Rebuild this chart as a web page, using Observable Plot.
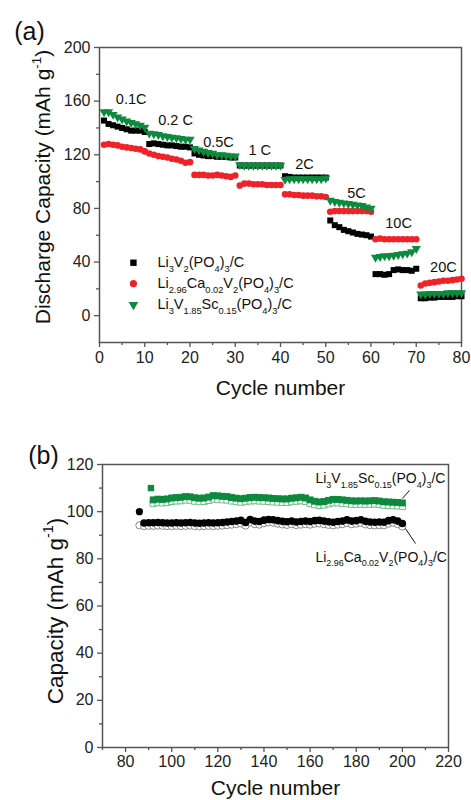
<!DOCTYPE html>
<html>
<head>
<meta charset="utf-8">
<script src="https://cdn.jsdelivr.net/npm/d3@7"></script>
<script src="https://cdn.jsdelivr.net/npm/@observablehq/plot@0.6"></script>
<style>
  html, body { margin: 0; padding: 0; background: #fff; }
  #wrap { width: 471px; }
  #wrap svg { display: block; }
</style>
</head>
<body>
<div id="wrap"></div>
<script>
// ---------------- Panel (a) data ----------------
const cyclesA = d3.range(1, 81);
const nameLVP = "Li_{3}V_{2}(PO_{4})_{3}/C";
const nameCa = "Li_{2.96}Ca_{0.02}V_{2}(PO_{4})_{3}/C";
const nameSc = "Li_{3}V_{1.85}Sc_{0.15}(PO_{4})_{3}/C";

const capLVP = [
  145.5, 143, 142, 141, 140, 139, 138, 138, 138, 137,
  128, 128.5, 128, 127.5, 127, 127, 126.5, 126, 126, 125.5,
  121, 120, 119.5, 119, 119, 118.5, 118.5, 118.5, 118, 118,
  112, 112, 112, 112, 112, 112, 112, 112, 112, 112,
  104, 103.5, 103, 103, 103, 103, 103, 103, 103, 103,
  71, 67.5, 66, 64, 63, 62, 61, 60.5, 60, 59,
  31, 31, 30.5, 31, 34, 34.5, 34, 34, 33.5, 35,
  13, 13, 13.5, 13.5, 14, 14, 14, 14, 14.5, 14.5
];
const capCa = [
  127.5, 128, 127.5, 127, 126, 125.5, 125, 124.5, 124, 122.5,
  121, 120, 119, 118.5, 118, 117, 116.5, 115.5, 114, 114.5,
  105, 105, 105, 104.5, 104.5, 105, 104.5, 104, 103.5, 104.5,
  97, 98.5, 98.5, 98, 98, 98, 97.5, 97.5, 97.5, 97.5,
  90.5, 90.5, 90, 90, 89.5, 89.5, 89.5, 89, 89, 88.5,
  77.5, 78, 78, 78, 78, 78, 78, 78, 78, 77.5,
  57, 57.5, 57, 57, 57, 57, 57, 57, 57, 57,
  22.5, 24, 24.5, 25, 25.5, 26, 26, 26.5, 27, 27.5
];
const capSc = [
  152, 152, 150, 148, 146.5, 145, 144, 143, 142, 140.5,
  136, 135.5, 135, 134, 133.5, 133, 132.5, 132, 131.5, 131.5,
  124.5, 123.5, 122.5, 121.5, 121, 120, 120, 119.5, 119, 119,
  112.5, 112, 112, 112, 112, 112, 112, 112, 112, 112,
  101.5, 102, 102, 102, 102, 102, 102, 102, 102, 102.5,
  86, 85, 84.5, 84, 83.5, 83, 82.5, 82, 81, 80,
  43.5, 44, 44.5, 44.5, 45, 45.5, 46, 46.5, 47.5, 50,
  16, 16, 16.5, 16.5, 16.5, 16.5, 17, 17, 17, 17
];

const rateLabels = ["0.1C", "0.2 C", "0.5C", "1 C", "2C", "5C", "10C", "20C"];
const rateX = [7, 16.8, 26.3, 35.4, 45.3, 56.8, 66.1, 76];
const rateY = [161, 146, 129, 123, 113, 91, 69, 36];

const xTicksA = [0, 10, 20, 30, 40, 50, 60, 70, 80];
const xMinorA = [5, 15, 25, 35, 45, 55, 65, 75];
const yTicksA = [0, 40, 80, 120, 160, 200];
const yMinorA = [20, 60, 100, 140, 180];

const xLabel = "Cycle number";
const yLabelA = "Discharge Capacity (mAh g^{-1})";
const yLabelB = "Capacity (mAh g^{-1})";

// ---------------- Panel (b) data ----------------
const caFirstCycle = [86], caFirstCap = [100];
const scFirstCycle = [91], scFirstCap = [110];
const cyclesCaFilled = d3.range(88, 201, 2);
const caFilled = [
  95.2, 95.3, 95.3, 95.4, 95.3,
  95.2, 95.2, 95.3, 95.2, 95.3,
  95.4, 95.2, 95.1, 95.2, 95.3,
  95.2, 95.3, 95.4, 95.6, 95.8,
  96.0, 96.3, 95.4, 96.7, 96.0,
  95.8, 96.4, 96.7, 96.6, 96.2,
  95.9, 95.7, 96.0, 95.6, 95.8,
  96.0, 95.8, 96.2, 96.3, 96.0,
  95.7, 95.5, 95.8, 96.0, 96.5,
  96.0, 96.2, 96.6, 95.9, 95.6,
  95.5, 95.6, 95.5, 96.2, 96.6,
  96.0, 95.0
];
const cyclesCaOpen = d3.range(86, 201, 2);
const caOpen = [
  94.2,
  93.9, 94.0, 94.0, 94.1, 94.0,
  93.9, 93.9, 94.0, 93.9, 94.0,
  94.1, 93.9, 93.8, 93.9, 94.0,
  93.9, 94.0, 94.1, 94.3, 94.5,
  94.7, 95.0, 94.1, 95.4, 94.7,
  94.5, 95.1, 95.4, 95.3, 94.9,
  94.6, 94.4, 94.7, 94.3, 94.5,
  94.7, 94.5, 94.9, 95.0, 94.7,
  94.4, 94.2, 94.5, 94.7, 95.2,
  94.7, 94.9, 95.3, 94.6, 94.3,
  94.2, 94.3, 94.2, 94.9, 95.3,
  94.7, 93.7
];
const cyclesSc = d3.range(92, 201, 2);
const scFilled = [
  105.0, 105.3, 105.2, 105.4, 105.8,
  106.0, 106.1, 106.4, 106.3, 105.9,
  105.7, 105.8, 106.2, 106.8, 106.7,
  106.5, 106.4, 106.0, 105.7, 105.5,
  105.7, 106.0, 106.1, 106.0, 105.9,
  105.8, 105.6, 105.5, 105.4, 105.4,
  105.7, 105.9, 106.1, 105.8, 105.0,
  104.4, 104.1, 104.3, 104.8, 105.2,
  105.2, 105.0, 104.8, 104.6, 104.5,
  104.6, 104.5, 104.6, 104.7, 104.5,
  104.2, 104.1, 104.0, 103.9, 103.7
];
const scOpen = [
  103.6, 103.9, 103.8, 104.0, 104.4,
  104.6, 104.7, 105.0, 104.9, 104.5,
  104.3, 104.4, 104.8, 105.4, 105.3,
  105.1, 105.0, 104.6, 104.3, 104.1,
  104.3, 104.6, 104.7, 104.6, 104.5,
  104.4, 104.2, 104.1, 104.0, 104.0,
  104.3, 104.5, 104.7, 104.4, 103.6,
  103.0, 102.7, 102.9, 103.4, 103.8,
  103.8, 103.6, 103.4, 103.2, 103.1,
  103.2, 103.1, 103.2, 103.3, 103.1,
  102.8, 102.7, 102.6, 102.5, 102.3
];

const xTicksB = [80, 100, 120, 140, 160, 180, 200, 220];
const xMinorB = [70, 90, 110, 130, 150, 170, 190, 210];
const yTicksB = [0, 20, 40, 60, 80, 100, 120];
const yMinorB = [10, 30, 50, 70, 90, 110];

// annotation text & leader lines (data coordinates)
const annText = [nameSc, nameCa];
const annX = [162.3, 162.3];
const annY = [113.9, 80.7];
const leaderX1 = [200.0, 201.3], leaderY1 = [105.6, 92.9];
const leaderX2 = [203.1, 205.7], leaderY2 = [109.0, 86.5];

// ---------------- styles ----------------
const FONT = "'Liberation Sans', Arial, Helvetica, sans-serif";
const AXIS = "#555";
const BLACK = "#000000";
const RED = "#ee2228";
const GREEN = "#0c8a3e";
const GRAY_OPEN = "#8a8a8a";
const GREEN_OPEN = "#6cc08a";

const triDown = {
  draw(ctx, size) {
    const a = Math.sqrt(4 * size / Math.sqrt(3));
    const h = a * Math.sqrt(3) / 2;
    ctx.moveTo(0, 2 * h / 3);
    ctx.lineTo(-a / 2, -h / 3);
    ctx.lineTo(a / 2, -h / 3);
    ctx.closePath();
  }
};

const rowsA = (caps) => cyclesA.map((c, i) => ({x: c, y: caps[i]}));
const zip = (xs, ys) => xs.map((x, i) => ({x, y: ys[i]}));

const axisStyle = {stroke: AXIS, strokeWidth: 1.3, fontSize: 16, label: null, fill: "#222"};
const centered = {textAnchor: "middle", lineAnchor: "middle"};

// legend (panel a) – placed in data coordinates inside the frame
const legendNames = [nameLVP, nameCa, nameSc];
const legendSymbols = ["square", "circle", triDown];
const legendColors = [BLACK, RED, GREEN];
const legendY = [39.5, 23.9, 8.2];
const legendMarkX = 7.5, legendTextX = 12.8;
const legendRows = legendNames.map((n, i) => ({n, s: legendSymbols[i], c: legendColors[i], y: legendY[i]}));

const plotA = Plot.plot({
  width: 471, height: 400,
  marginLeft: 99, marginRight: 10, marginTop: 47, marginBottom: 58,
  x: {domain: [0, 80]},
  y: {domain: [-20, 200]},
  style: {fontFamily: FONT, background: "white", overflow: "visible", color: "#111"},
  marks: [
    Plot.axisX(xTicksA, {...axisStyle, tickSize: 5, tickPadding: 4}),
    Plot.axisX(xMinorA, {...axisStyle, tickSize: 3, tickFormat: () => ""}),
    Plot.axisY(yTicksA, {...axisStyle, tickSize: 5, tickPadding: 4}),
    Plot.axisY(yMinorA, {...axisStyle, tickSize: 3, tickFormat: () => ""}),
    Plot.frame({stroke: AXIS, strokeWidth: 1.5}),
    Plot.dot(rowsA(capLVP), {x: "x", y: "y", symbol: "square", fill: BLACK, r: 3.4}),
    Plot.dot(rowsA(capCa), {x: "x", y: "y", symbol: "circle", fill: RED, r: 3.3}),
    Plot.dot(rowsA(capSc), {x: "x", y: "y", symbol: triDown, fill: GREEN, r: 3.4}),
    Plot.text(rateLabels, {x: (d, i) => rateX[i], y: (d, i) => rateY[i], text: d => d, fontSize: 14.5}),
    Plot.dot(legendRows, {x: () => legendMarkX, y: "y", symbol: d => d.s, fill: d => d.c, r: 3.6}),
    Plot.text(legendRows, {x: () => legendTextX, y: "y", text: "n", textAnchor: "start", fontSize: 14.5}),
    Plot.text([xLabel], {...centered, frameAnchor: "bottom", dy: 46, fontSize: 21, text: d => d}),
    Plot.text([yLabelA], {...centered, frameAnchor: "left", rotate: -90, dx: -56, dy: -8, fontSize: 21, text: d => d}),
    Plot.text(["(a)"], {...centered, frameAnchor: "top-left", dx: -70, dy: -16, fontSize: 25, text: d => d})
  ]
});

const plotB = Plot.plot({
  width: 471, height: 400,
  marginLeft: 102, marginRight: 23, marginTop: 64, marginBottom: 53,
  x: {domain: [70, 220]},
  y: {domain: [0, 120]},
  style: {fontFamily: FONT, background: "white", overflow: "visible", color: "#111"},
  marks: [
    Plot.axisX(xTicksB, {...axisStyle, tickSize: 5, tickPadding: 3}),
    Plot.axisX(xMinorB, {...axisStyle, tickSize: 3, tickFormat: () => ""}),
    Plot.axisY(yTicksB, {...axisStyle, tickSize: 5, tickPadding: 4}),
    Plot.axisY(yMinorB, {...axisStyle, tickSize: 3, tickFormat: () => ""}),
    Plot.frame({stroke: AXIS, strokeWidth: 1.5}),
    Plot.dot(zip(cyclesCaOpen, caOpen), {x: "x", y: "y", symbol: "circle", fill: "white", stroke: GRAY_OPEN, strokeWidth: 1, r: 3.6}),
    Plot.dot(zip(cyclesCaFilled, caFilled), {x: "x", y: "y", symbol: "circle", fill: BLACK, r: 3.8}),
    Plot.dot(zip(caFirstCycle, caFirstCap), {x: "x", y: "y", symbol: "circle", fill: BLACK, r: 3.6}),
    Plot.dot(zip(cyclesSc, scOpen), {x: "x", y: "y", symbol: "square", fill: "white", stroke: GREEN_OPEN, strokeWidth: 1, r: 3.6}),
    Plot.dot(zip(cyclesSc, scFilled), {x: "x", y: "y", symbol: "square", fill: GREEN, r: 3.9}),
    Plot.dot(zip(scFirstCycle, scFirstCap), {x: "x", y: "y", symbol: "square", fill: GREEN, r: 3.6}),
    Plot.link(leaderX1.map((x, i) => ({x1: x, y1: leaderY1[i], x2: leaderX2[i], y2: leaderY2[i]})),
      {x1: "x1", y1: "y1", x2: "x2", y2: "y2", stroke: "#111", strokeWidth: 1}),
    Plot.text(annText, {x: (d, i) => annX[i], y: (d, i) => annY[i], text: d => d, textAnchor: "start", fontSize: 14}),
    Plot.text([xLabel], {...centered, frameAnchor: "bottom", dy: 41, fontSize: 21, text: d => d}),
    Plot.text([yLabelB], {...centered, frameAnchor: "left", rotate: -90, dx: -47, dy: 5, fontSize: 22.5, text: d => d}),
    Plot.text(["(b)"], {...centered, frameAnchor: "top-left", dx: -59, dy: -9, fontSize: 25, text: d => d})
  ]
});

const wrap = document.getElementById("wrap");
wrap.appendChild(plotA);
wrap.appendChild(plotB);

// Rich text: _{...} subscript, ^{...} superscript
function applyRich(svg) {
  const ns = "http://www.w3.org/2000/svg";
  svg.querySelectorAll("text").forEach(t => {
    const s = t.textContent;
    if (!/[_^]\{/.test(s)) return;
    const fs = parseFloat(getComputedStyle(t).fontSize) || 14;
    t.textContent = "";
    let cur = 0;
    const re = /([_^])\{([^}]*)\}|([^_^]+)/g;
    let m;
    while ((m = re.exec(s))) {
      const ts = document.createElementNS(ns, "tspan");
      let target, txt, size = null;
      if (m[3] !== undefined) { target = 0; txt = m[3]; }
      else if (m[1] === "_") { target = 0.3 * fs; txt = m[2]; size = 0.64 * fs; }
      else { target = -0.42 * fs; txt = m[2]; size = 0.64 * fs; }
      const d = target - cur;
      if (d !== 0) ts.setAttribute("dy", d.toFixed(2));
      cur = target;
      if (size) ts.setAttribute("font-size", size.toFixed(2));
      ts.textContent = txt;
      t.appendChild(ts);
    }
  });
}
applyRich(plotA);
applyRich(plotB);
</script>
</body>
</html>
